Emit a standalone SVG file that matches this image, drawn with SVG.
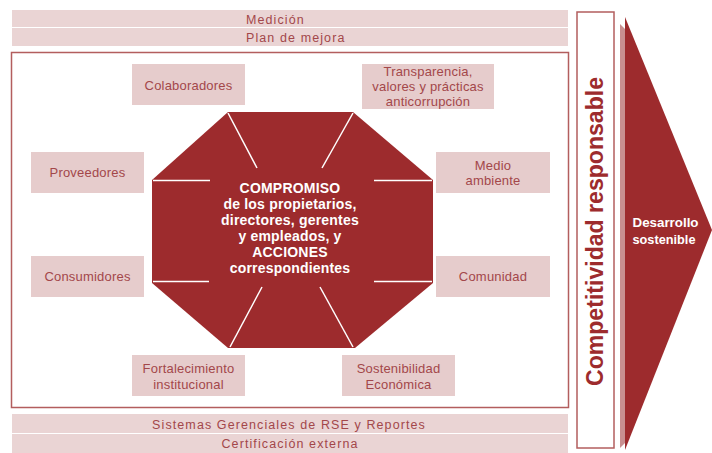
<svg xmlns="http://www.w3.org/2000/svg" width="712" height="453" viewBox="0 0 712 453">
<style>
.bar{fill:#ead4d4}
.box{fill:#e6cccc}
.bt{font-family:"Liberation Sans",Arial,sans-serif;font-size:12.5px;fill:#a3474a;letter-spacing:1.1px}
.nt{font-family:"Liberation Sans",Arial,sans-serif;font-size:13px;fill:#a3474a;text-anchor:middle;letter-spacing:0.2px}
.ct{font-family:"Liberation Sans",Arial,sans-serif;font-size:14px;font-weight:bold;fill:#ffffff;text-anchor:middle;letter-spacing:0.2px}
.wl{stroke:#ffffff;stroke-width:1.5;fill:none}
</style>
<rect width="712" height="453" fill="#ffffff"/>
<g id="medicion">
<rect class="bar" x="12" y="10" width="556" height="17"/>
<text class="bt" x="246" y="24">Medición</text>
</g>
<g id="plan-mejora">
<rect class="bar" x="12" y="28" width="556" height="18"/>
<text class="bt" x="246" y="42">Plan de mejora</text>
</g>
<rect id="frame" x="11.5" y="52.5" width="557" height="355" fill="#ffffff" stroke="#b35e5e" stroke-width="1.5"/>
<g id="compromiso">
<polygon points="228,112 353,112 433,180 433,283 355,348 228,348 152,283 152,180" fill="#9d2b2d"/>
<text class="ct" x="290" y="193">COMPROMISO</text>
<text class="ct" x="290" y="209">de los propietarios,</text>
<text class="ct" x="290" y="225">directores, gerentes</text>
<text class="ct" x="290" y="241">y empleados, y</text>
<text class="ct" x="290" y="257">ACCIONES</text>
<text class="ct" x="290" y="273">correspondientes</text>
</g>
<g id="connectors">
<line class="wl" x1="228" y1="113" x2="257" y2="168"/>
<line class="wl" x1="353" y1="113" x2="322" y2="168"/>
<line class="wl" x1="153" y1="180.5" x2="210" y2="180.5"/>
<line class="wl" x1="153" y1="281.5" x2="209" y2="281.5"/>
<line class="wl" x1="374" y1="180.5" x2="432" y2="180.5"/>
<line class="wl" x1="374" y1="281.5" x2="432" y2="281.5"/>
<line class="wl" x1="262" y1="287" x2="230" y2="347"/>
<line class="wl" x1="320" y1="287" x2="353" y2="347"/>
</g>
<g id="colaboradores">
<rect class="box" x="132" y="64" width="113" height="41"/>
<text class="nt" x="188.5" y="89.5">Colaboradores</text>
</g>
<g id="transparencia">
<rect class="box" x="362" y="64" width="132" height="45"/>
<text class="nt" x="428" y="75.5">Transparencia,</text>
<text class="nt" x="428" y="91">valores y prácticas</text>
<text class="nt" x="428" y="106">anticorrupción</text>
</g>
<g id="proveedores">
<rect class="box" x="31" y="152" width="113" height="41"/>
<text class="nt" x="87.5" y="177">Proveedores</text>
</g>
<g id="medio-ambiente">
<rect class="box" x="436" y="152" width="114" height="41"/>
<text class="nt" x="493" y="169.5">Medio</text>
<text class="nt" x="493" y="185">ambiente</text>
</g>
<g id="consumidores">
<rect class="box" x="31" y="256" width="113" height="41"/>
<text class="nt" x="87.5" y="281">Consumidores</text>
</g>
<g id="comunidad">
<rect class="box" x="436" y="256" width="114" height="41"/>
<text class="nt" x="493" y="281">Comunidad</text>
</g>
<g id="fortalecimiento">
<rect class="box" x="132" y="355" width="113" height="41"/>
<text class="nt" x="188.5" y="372.5">Fortalecimiento</text>
<text class="nt" x="188.5" y="388.5">institucional</text>
</g>
<g id="sostenibilidad">
<rect class="box" x="342" y="355" width="113" height="41"/>
<text class="nt" x="398.5" y="372.5">Sostenibilidad</text>
<text class="nt" x="398.5" y="388.5">Económica</text>
</g>
<g id="sistemas">
<rect class="bar" x="12" y="414" width="556" height="19"/>
<text class="bt" x="289" y="428.5" text-anchor="middle">Sistemas Gerenciales de RSE y Reportes</text>
</g>
<g id="certificacion">
<rect class="bar" x="12" y="434" width="556" height="19"/>
<text class="bt" x="290" y="447.5" text-anchor="middle">Certificación externa</text>
</g>
<g id="competitividad">
<rect x="577" y="12" width="37" height="436" fill="#ffffff" stroke="#b35e5e" stroke-width="1.5"/>
<text transform="translate(603,231.5) rotate(-90)" x="0" y="0" text-anchor="middle" textLength="309" lengthAdjust="spacingAndGlyphs" font-family="'Liberation Sans',Arial,sans-serif" font-size="24" font-weight="bold" fill="#9d2b2d">Competitividad responsable</text>
</g>
<g id="desarrollo">
<polygon points="620,24 626,30 626,442 620,448" fill="#c98f90"/>
<polygon points="625,17 712,230 625,450" fill="#9d2b2d"/>
<text x="665.5" y="227" text-anchor="middle" textLength="66" lengthAdjust="spacingAndGlyphs" font-family="'Liberation Sans',Arial,sans-serif" font-size="12.5" font-weight="bold" fill="#ffffff">Desarrollo</text>
<text x="664" y="244" text-anchor="middle" textLength="63" lengthAdjust="spacingAndGlyphs" font-family="'Liberation Sans',Arial,sans-serif" font-size="12.5" font-weight="bold" fill="#ffffff">sostenible</text>
</g>
</svg>
